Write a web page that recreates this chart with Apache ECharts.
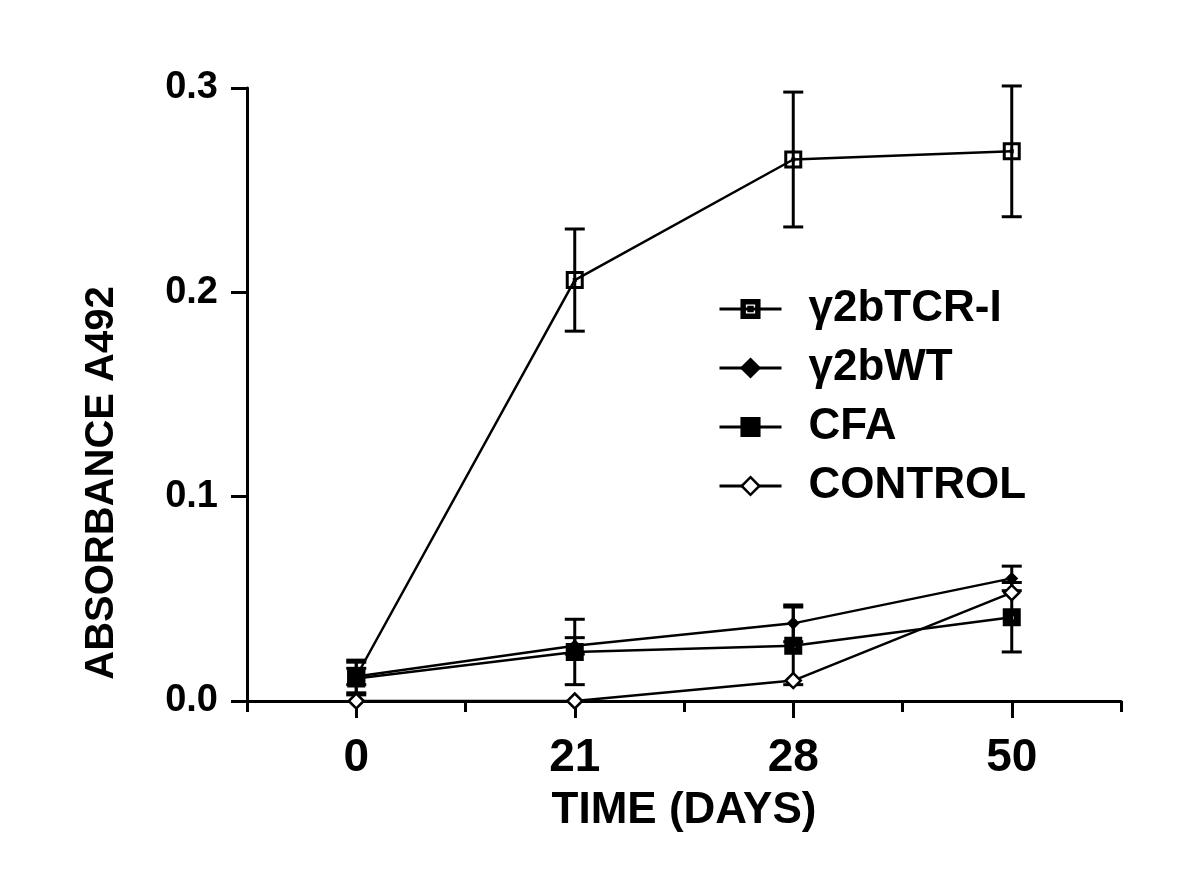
<!DOCTYPE html>
<html>
<head>
<meta charset="utf-8">
<script src="https://cdn.jsdelivr.net/npm/echarts@6/dist/echarts.min.js"></script>
<style>
  html, body { margin: 0; padding: 0; background: #fff; }
  #chart { width: 1200px; height: 885px; }
</style>
</head>
<body>
<div id="chart"></div>
<script>
  // data
  const days = ['0', '21', '28', '50'];
  const seriesNames = ['γ2bTCR-I', 'γ2bWT', 'CFA', 'CONTROL'];
  const tcrValues = [0.012, 0.206, 0.265, 0.269];
  const tcrErrors = [0.008, 0.025, 0.033, 0.032];
  const wtValues = [0.012, 0.027, 0.038, 0.060];
  const wtErrors = [0.004, 0.004, 0.009, 0.006];
  const cfaValues = [0.011, 0.024, 0.027, 0.041];
  const cfaErrors = [0.008, 0.016, 0.019, 0.017];
  const controlValues = [0.000, 0.000, 0.010, 0.053];
  const yTicks = [0, 0.1, 0.2, 0.3];

  const font = 'Liberation Sans, Arial, sans-serif';

  // marker shapes
  const openSquare = 'path://M0,0H18V18H0Z M3,3V15H15V3Z M7,7H11V11H7Z';
  const filledSquare = 'path://M0,0H18V18H0Z M8,8V11H11V8Z';

  function errorData(values, errors) {
    return values.map(function (v, i) {
      return [i, v - errors[i], v + errors[i]];
    });
  }

  function errorSeries(values, errors) {
    return {
      type: 'custom',
      silent: true,
      z: 1,
      data: errorData(values, errors),
      renderItem: function (params, api) {
        const lo = api.coord([api.value(0), api.value(1)]);
        const hi = api.coord([api.value(0), api.value(2)]);
        const w = 10;
        const style = { stroke: '#000', lineWidth: 3 };
        return {
          type: 'group',
          children: [
            { type: 'line', shape: { x1: lo[0], y1: lo[1], x2: hi[0], y2: hi[1] }, style: style },
            { type: 'line', shape: { x1: hi[0] - w, y1: hi[1], x2: hi[0] + w, y2: hi[1] }, style: style },
            { type: 'line', shape: { x1: lo[0] - w, y1: lo[1], x2: lo[0] + w, y2: lo[1] }, style: style }
          ]
        };
      }
    };
  }

  function lineSeries(name, values, symbol, size, fill) {
    return {
      name: name,
      type: 'line',
      data: values,
      symbol: symbol,
      symbolSize: size,
      showAllSymbol: true,
      z: 3,
      lineStyle: { color: '#000', width: 2.5 },
      itemStyle: { color: fill, borderColor: '#000', borderWidth: fill === '#fff' ? 2.5 : 0 },
      emphasis: { disabled: true },
      animation: false
    };
  }

  const chart = echarts.init(document.getElementById('chart'), null, { renderer: 'canvas' });

  const option = {
    backgroundColor: '#fff',
    animation: false,
    grid: { left: 247, right: 79, top: 88, bottom: 184 },
    legend: {
      orient: 'vertical',
      left: 713,
      top: 281,
      itemWidth: 62,
      itemHeight: 22,
      itemGap: 13,
      data: seriesNames,
      inactiveColor: '#000',
      itemStyle: { borderWidth: 2.5 },
      lineStyle: { width: 3 },
      textStyle: {
        color: '#000',
        fontFamily: font,
        fontWeight: 'bold',
        fontSize: 44,
        lineHeight: 46,
        padding: [0, 0, 0, 22]
      }
    },
    xAxis: [
      {
        type: 'category',
        data: days,
        boundaryGap: true,
        axisLine: { show: true, lineStyle: { color: '#000', width: 3 } },
        axisTick: { show: true, alignWithLabel: false, length: 11, lineStyle: { color: '#000', width: 3 } },
        axisLabel: {
          color: '#000',
          fontFamily: font,
          fontWeight: 'bold',
          fontSize: 46,
          margin: 34
        },
        name: 'TIME (DAYS)',
        nameLocation: 'middle',
        nameGap: 88,
        nameTextStyle: {
          color: '#000',
          fontFamily: font,
          fontWeight: 'bold',
          fontSize: 44
        }
      },
      {
        type: 'category',
        data: days,
        boundaryGap: true,
        position: 'bottom',
        offset: 0,
        axisLine: { show: false },
        axisTick: { show: true, alignWithLabel: true, length: 17, lineStyle: { color: '#000', width: 3 } },
        axisLabel: { show: false }
      }
    ],
    yAxis: {
      type: 'value',
      min: 0,
      max: 0.3,
      interval: 0.1,
      splitLine: { show: false },
      axisLine: { show: true, lineStyle: { color: '#000', width: 3 } },
      axisTick: { show: true, length: 16, lineStyle: { color: '#000', width: 3 } },
      axisLabel: {
        color: '#000',
        fontFamily: font,
        fontWeight: 'bold',
        fontSize: 38,
        margin: 29,
        formatter: function (v) {
          return yTicks.indexOf(Math.round(v * 10) / 10) >= 0 ? v.toFixed(1) : '';
        }
      }
    },
    graphic: [
      {
        type: 'text',
        x: 102,
        y: 483,
        rotation: Math.PI / 2,
        style: {
          text: 'ABSORBANCE A492',
          fill: '#000',
          font: 'bold 40px ' + font,
          textAlign: 'center',
          textVerticalAlign: 'middle'
        }
      }
    ],
    series: [
      errorSeries(tcrValues, tcrErrors),
      errorSeries(wtValues, wtErrors),
      errorSeries(cfaValues, cfaErrors),
      lineSeries(seriesNames[0], tcrValues, openSquare, 18, '#000'),
      lineSeries(seriesNames[1], wtValues, 'diamond', 13, '#000'),
      lineSeries(seriesNames[2], cfaValues, filledSquare, 18, '#000'),
      lineSeries(seriesNames[3], controlValues, 'diamond', 15, '#fff')
    ]
  };

  chart.setOption(option);
</script>
</body>
</html>
